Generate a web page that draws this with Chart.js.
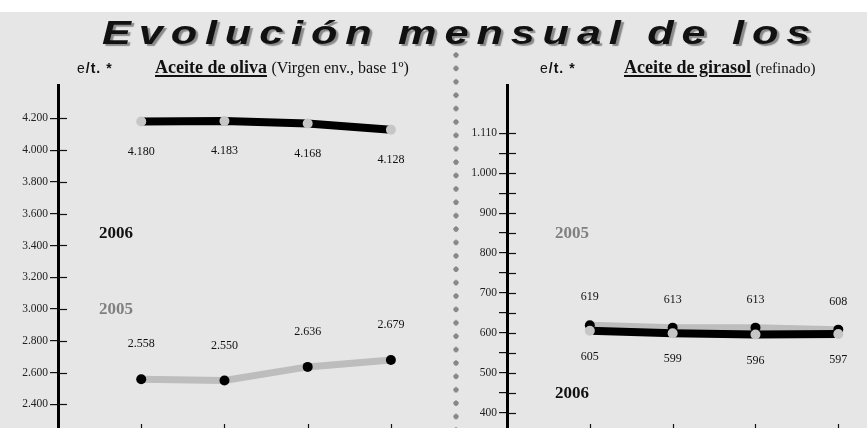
<!DOCTYPE html>
<html><head><meta charset="utf-8">
<script src="https://cdn.jsdelivr.net/npm/chart.js@4.4.1/dist/chart.umd.min.js"></script>
<style>
html,body{margin:0;padding:0;width:867px;height:428px;overflow:hidden;background:#fff;}
#bg{position:absolute;left:0;top:12px;width:867px;height:416px;background:#e6e6e6;}
.abs{position:absolute;white-space:nowrap;}
#title{left:102px;top:16px;font:italic bold 33px 'Liberation Sans';line-height:33px;letter-spacing:6px;word-spacing:-1px;color:#111;text-shadow:2px 2px 1px #8a8a8a;transform-origin:0 0;}
.unit{font:bold 14px 'Liberation Sans';line-height:14px;color:#111;letter-spacing:1px;}
.unit span{font-weight:normal;}
.sub{font:bold 18px 'Liberation Serif';line-height:18px;color:#111;}
.sub u{text-decoration-thickness:1.5px;text-underline-offset:2px;}
.sub .p{font:16px 'Liberation Serif';}
.sub .p2{font:15px 'Liberation Serif';}
.yr{font:bold 17px 'Liberation Serif';line-height:17px;}
#dots{position:absolute;left:453px;top:52px;width:6px;height:380px;background:radial-gradient(circle at 3px 3px,#888 2.4px,transparent 2.9px);background-size:6px 13.4px;}
canvas{position:absolute;top:0;}
</style></head>
<body>
<div id="bg"></div>
<div id="dots"></div>
<canvas id="c1" width="450" height="445" style="left:0"></canvas>
<canvas id="c2" width="417" height="445" style="left:450px"></canvas>
<div id="title" class="abs">Evolución mensual de los</div>
<div class="abs unit" style="left:77px;top:61px"><span>e</span>/t. *</div>
<div class="abs sub" style="left:155px;top:58px"><u>Aceite de oliva</u> <span class="p">(Virgen env., base 1º)</span></div>
<div class="abs unit" style="left:540px;top:61px"><span>e</span>/t. *</div>
<div class="abs sub" style="left:624px;top:58px"><u>Aceite de girasol</u> <span class="p2">(refinado)</span></div>
<div class="abs yr" style="left:99px;top:224px;color:#111">2006</div>
<div class="abs yr" style="left:99px;top:300px;color:#808080">2005</div>
<div class="abs yr" style="left:555px;top:224px;color:#808080">2005</div>
<div class="abs yr" style="left:555px;top:384px;color:#111">2006</div>
<script>
// ---- data ----
const periods = [1, 2, 3, 4];
const oliva2005 = [2558, 2550, 2636, 2679];
const oliva2006 = [4180, 4183, 4168, 4128];
const girasol2005 = [619, 613, 613, 608];
const girasol2006 = [605, 599, 596, 597];
const olivaTicks = [2400, 2600, 2800, 3000, 3200, 3400, 3600, 3800, 4000, 4200];
const olivaTickLabels = ['2.400', '2.600', '2.800', '3.000', '3.200', '3.400', '3.600', '3.800', '4.000', '4.200'];
const girasolTicks = [400, 450, 500, 550, 600, 650, 700, 750, 800, 850, 900, 950, 1000, 1050, 1100];
const girasolTickLabels = ['400', '', '500', '', '600', '', '700', '', '800', '', '900', '', '1.000', '', '1.110'];

// fit title width
(function(){
  const t = document.getElementById('title');
  const w = t.offsetWidth - 6;
  t.style.transform = 'scaleX(' + (708 / w) + ')';
})();

function fmt(v){
  const s = String(v);
  return s.length > 3 ? s.slice(0, s.length - 3) + '.' + s.slice(-3) : s;
}

const valuePlugin = {
  id: 'vals',
  afterDatasetsDraw(chart){
    const ctx = chart.ctx;
    ctx.save();
    ctx.font = '12px "Liberation Serif"';
    ctx.fillStyle = '#111';
    ctx.textAlign = 'center';
    ctx.textBaseline = 'middle';
    chart.data.datasets.forEach((ds, di) => {
      const meta = chart.getDatasetMeta(di);
      meta.data.forEach((el, i) => {
        ctx.fillText(fmt(ds.data[i].y), el.x, el.y + ds.labelOffset);
      });
    });
    ctx.restore();
  }
};

const tickPlugin = {
  id: 'innerTicks',
  afterDraw(chart){
    const ctx = chart.ctx, ys = chart.scales.y, xs = chart.scales.x, a = chart.chartArea;
    ctx.save();
    ctx.strokeStyle = '#111';
    ctx.lineWidth = 1.2;
    ys.ticks.forEach(t => {
      const py = Math.round(ys.getPixelForValue(t.value)) + 0.5;
      ctx.beginPath(); ctx.moveTo(a.left, py); ctx.lineTo(a.left + 9, py); ctx.stroke();
    });
    periods.forEach(p => {
      const px = Math.round(xs.getPixelForValue(p)) + 0.5;
      ctx.beginPath(); ctx.moveTo(px, a.bottom - 9); ctx.lineTo(px, a.bottom); ctx.stroke();
    });
    ctx.restore();
  }
};

function pts(arr){ return periods.map((p, i) => ({x: p, y: arr[i]})); }

function makeChart(id, d2006, d2005, off2006, off2005, yMin, yMax, xMax, axisW, tickVals, tickLabels){
  return new Chart(document.getElementById(id), {
    type: 'line',
    data: {
      datasets: [
        {label: '2006', data: pts(d2006), borderColor: '#000', borderWidth: 8,
         pointRadius: 5, pointBackgroundColor: '#c6c6c6', pointBorderWidth: 0,
         tension: 0, borderCapStyle: 'butt', labelOffset: off2006},
        {label: '2005', data: pts(d2005), borderColor: '#bdbdbd', borderWidth: 7,
         pointRadius: 5, pointBackgroundColor: '#000', pointBorderWidth: 0,
         tension: 0, borderCapStyle: 'butt', labelOffset: off2005}
      ]
    },
    options: {
      responsive: false, animation: false, devicePixelRatio: 1,
      layout: {padding: {top: 85, bottom: 12, left: 0, right: 0}},
      plugins: {legend: {display: false}, tooltip: {enabled: false}},
      scales: {
        x: {type: 'linear', display: false, min: 0, max: xMax},
        y: {
          type: 'linear', min: yMin, max: yMax,
          afterFit(s){ s.width = axisW; },
          afterBuildTicks(s){ s.ticks = tickVals.map(v => ({value: v})); },
          border: {display: true, color: '#000', width: 3},
          grid: {display: true, drawOnChartArea: false, drawTicks: true, tickLength: 8, color: '#111', lineWidth: 1.2},
          ticks: {padding: 2, color: '#222', font: {family: 'Liberation Serif', size: 11.5},
                  callback: (v) => tickLabels[tickVals.indexOf(v)]}
        }
      }
    },
    plugins: [valuePlugin, tickPlugin]
  });
}

makeChart('c1', oliva2006, oliva2005, 30, -35, 2220, 4410, 4.65, 58, olivaTicks, olivaTickLabels);
makeChart('c2', girasol2006, girasol2005, 26, -28, 349, 1221, 4.286, 57, girasolTicks, girasolTickLabels);
</script>
</body></html>
